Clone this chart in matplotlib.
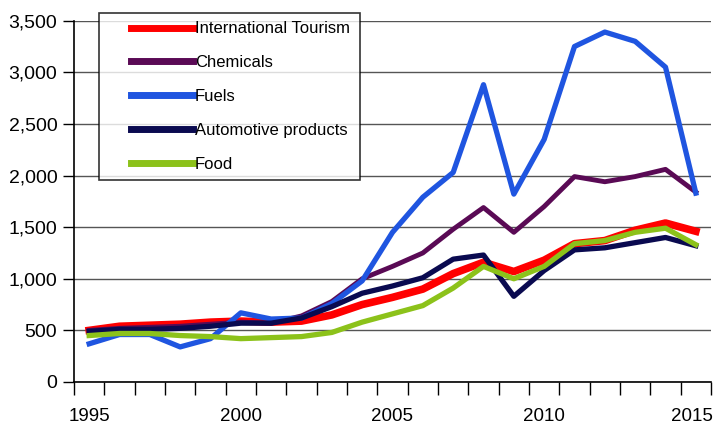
import numpy as np
import matplotlib.pyplot as plt
import matplotlib.transforms as mtrans
from matplotlib.legend_handler import HandlerLine2D

plt.rcParams['font.family'] = ['Liberation Sans', 'DejaVu Sans']

years = list(range(1995, 2016))

tourism = [500, 540, 550, 560, 580, 590, 580, 590, 650, 750, 820,
           900, 1050, 1160, 1070, 1180, 1340, 1370, 1470, 1540, 1460]
chemicals = [500, 520, 530, 540, 560, 580, 570, 640, 780, 1000, 1120,
             1250, 1480, 1690, 1450, 1700, 1990, 1940, 1990, 2060, 1840]
fuels = [370, 460, 460, 340, 420, 670, 610, 620, 760, 980, 1450,
         1790, 2030, 2880, 1820, 2350, 3250, 3390, 3300, 3050, 1830]
automotive = [490, 510, 510, 520, 540, 570, 570, 620, 730, 860, 930,
              1010, 1190, 1230, 830, 1080, 1280, 1300, 1350, 1400, 1320]
food = [450, 470, 470, 450, 440, 420, 430, 440, 480, 580, 660,
        740, 910, 1120, 1000, 1120, 1340, 1370, 1450, 1490, 1330]

series = [
    ("International Tourism", tourism, "#ff0000", 5.5),
    ("Chemicals", chemicals, "#5a0a55", 3.5),
    ("Fuels", fuels, "#1f55e0", 3.8),
    ("Automotive products", automotive, "#0a0a50", 3.8),
    ("Food", food, "#8cc21a", 3.8),
]


# legend line that starts a bit in from the left of the handle box
class OffsetLine(HandlerLine2D):
    def __init__(self, off, **kw):
        super().__init__(**kw)
        self.off = off

    def create_artists(self, legend, orig_handle, xdescent, ydescent,
                       width, height, fontsize, trans):
        return super().create_artists(legend, orig_handle, xdescent - self.off,
                                      ydescent, width - self.off, height,
                                      fontsize, trans)


fig = plt.figure(figsize=(7.15, 4.26), dpi=100)
ax = fig.add_axes([74/715, 1-382/426, (711-74)/715, (382-20.7)/426])

x = np.arange(len(years))
handles = []
for name, vals, col, lw in series:
    h, = ax.plot(x, vals, color=col, lw=lw, label=name, zorder=3)
    handles.append(h)

ax.set_xlim(-0.5, len(years) - 0.5)
ax.set_ylim(0, 3500)
ax.set_yticks(np.arange(0, 3501, 500))
ax.set_yticklabels([f"{v:,}" for v in range(0, 3501, 500)])
ax.yaxis.grid(True, color='#555555', lw=1)
ax.set_axisbelow(True)

ax.set_xticks(np.arange(-0.5, len(years), 1.0), minor=True)
ax.set_xticks([0, 5, 10, 15, 20])
ax.set_xticklabels(["1995", "2000", "2005", "2010", "2015"])
ax.tick_params(axis='x', which='major', length=0, labelsize=13.5, pad=19)
ax.tick_params(axis='x', which='minor', length=9, width=1)
ax.tick_params(axis='y', length=8, width=1, labelsize=14, pad=4)

# nudge the last year label so it stays inside the picture
last = ax.get_xticklabels()[-1]
last.set_transform(last.get_transform() + mtrans.ScaledTranslation(-4/100, 0, fig.dpi_scale_trans))

for s in ['top', 'right']:
    ax.spines[s].set_visible(False)
for s in ['left', 'bottom']:
    ax.spines[s].set_linewidth(1.2)

leg = fig.legend(handles=handles, loc='upper left',
                 bbox_to_anchor=(99/715, 1-181/426, (360-99)/715, (181-13)/426),
                 mode='expand', fontsize=12, frameon=True, fancybox=False,
                 edgecolor='black', handlelength=5.15, handletextpad=0.1,
                 labelspacing=1.13, borderaxespad=0, borderpad=0.5,
                 handler_map={h: OffsetLine(17) for h in handles})
leg.get_frame().set_linewidth(1.2)
for lh in leg.get_lines():
    lh.set_linewidth(5)

fig.savefig("out.png", dpi=100)
